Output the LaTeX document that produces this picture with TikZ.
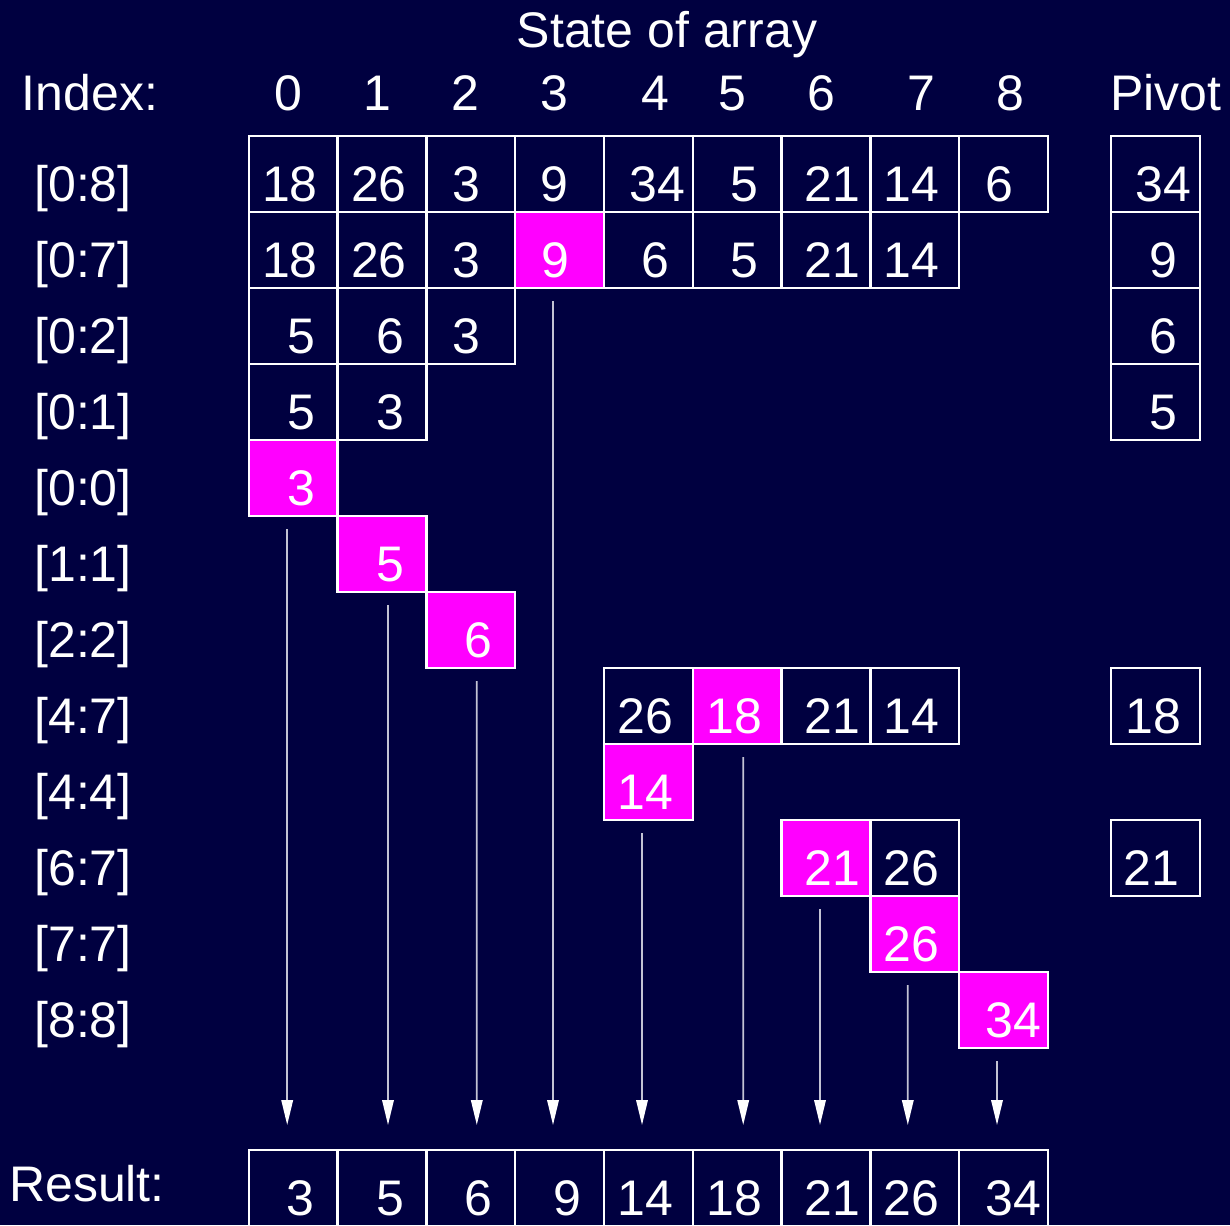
\documentclass[tikz,border=0pt]{standalone}
\usepackage{fontspec}
\setmainfont{Liberation Sans}
\usetikzlibrary{arrows.meta}
\definecolor{bgnavy}{RGB}{0,0,64}
\definecolor{pinkfill}{RGB}{255,0,255}
\definecolor{arrowgray}{RGB}{195,195,212}
\begin{document}
\begin{tikzpicture}[x=1pt,y=-1pt,
  cellbox/.style={draw=white,line width=2.5pt,minimum width=88.8pt,minimum height=76pt,inner sep=0pt,outer sep=0pt,anchor=north west},
  pinkbox/.style={cellbox,fill=pinkfill},
  resbox/.style={cellbox,minimum height=95pt},
  txt/.style={text=white,font=\fontsize{50}{60}\selectfont,inner sep=0pt,outer sep=0pt,anchor=base},
  arr/.style={draw=arrowgray,line width=1.8pt,-{Triangle[width=11.5pt,length=25pt,color=white]}}
]
\fill[bgnavy] (0,0) rectangle (1230,1225);
\useasboundingbox (0,0) rectangle (1230,1225);

% headers
\node[txt] (title) at (667,48) {State of array};
\node[txt] (index) at (90,111) {Index:};
\node[txt] (pivot) at (1166,111) {Pivot};
\node[txt] (h0) at (288,111) {0};
\node[txt] (h1) at (377,111) {1};
\node[txt] (h2) at (465,111) {2};
\node[txt] (h3) at (554,111) {3};
\node[txt] (h4) at (655,111) {4};
\node[txt] (h5) at (732,111) {5};
\node[txt] (h6) at (821,111) {6};
\node[txt] (h7) at (921,111) {7};
\node[txt] (h8) at (1010,111) {8};

% row labels
\node[txt] (l0) at (83,201) {[0:8]};
\node[txt] (l1) at (83,277) {[0:7]};
\node[txt] (l2) at (83,353) {[0:2]};
\node[txt] (l3) at (83,429) {[0:1]};
\node[txt] (l4) at (83,505) {[0:0]};
\node[txt] (l5) at (83,581) {[1:1]};
\node[txt] (l6) at (83,657) {[2:2]};
\node[txt] (l7) at (83,733) {[4:7]};
\node[txt] (l8) at (83,809) {[4:4]};
\node[txt] (l9) at (83,885) {[6:7]};
\node[txt] (l10) at (83,961) {[7:7]};
\node[txt] (l11) at (83,1037) {[8:8]};
\node[txt] (lres) at (87,1201) {Result:};

% row 0 cells
\foreach \c in {0,...,8} \node[cellbox] (r0c\c) at ({248.8+88.8*\c},136) {};
% row 1 cells
\foreach \c in {0,1,2,4,5,6,7} \node[cellbox] (r1c\c) at ({248.8+88.8*\c},212) {};
\node[pinkbox] (p3) at (515.2,212) {};
% row 2
\foreach \c in {0,1,2} \node[cellbox] (r2c\c) at ({248.8+88.8*\c},288) {};
% row 3
\foreach \c in {0,1} \node[cellbox] (r3c\c) at ({248.8+88.8*\c},364) {};
% single pinks
\node[pinkbox] (p0) at (248.8,440) {};
\node[pinkbox] (p1) at (337.6,516) {};
\node[pinkbox] (p2) at (426.4,592) {};
% row 7
\node[cellbox] (r7c4) at (604,668) {};
\node[cellbox] (r7c6) at (781.6,668) {};
\node[cellbox] (r7c7) at (870.4,668) {};
\node[pinkbox] (p5) at (692.8,668) {};
% row 8
\node[pinkbox] (p4) at (604,744) {};
% row 9
\node[cellbox] (r9c7) at (870.4,820) {};
\node[pinkbox] (p6) at (781.6,820) {};
% row 10, 11
\node[pinkbox] (p7) at (870.4,896) {};
\node[pinkbox] (p8) at (959.2,972) {};
% pivot column
\node[cellbox] (pv0) at (1111,136) {};
\node[cellbox] (pv1) at (1111,212) {};
\node[cellbox] (pv2) at (1111,288) {};
\node[cellbox] (pv3) at (1111,364) {};
\node[cellbox] (pv7) at (1111,668) {};
\node[cellbox] (pv9) at (1111,820) {};
% result row
\foreach \c in {0,...,8} \node[resbox] (res\c) at ({248.8+88.8*\c},1150) {};

% texts row 0
\node[txt] (t0a) at (290,201) {18};
\node[txt] (t0b) at (379,201) {26};
\node[txt] (t0c) at (466,201) {3};
\node[txt] (t0d) at (554,201) {9};
\node[txt] (t0e) at (657,201) {34};
\node[txt] (t0f) at (744,201) {5};
\node[txt] (t0g) at (832,201) {21};
\node[txt] (t0h) at (911,201) {14};
\node[txt] (t0i) at (999,201) {6};
\node[txt] (t0p) at (1163,201) {34};
% row 1
\node[txt] (t1a) at (290,277) {18};
\node[txt] (t1b) at (379,277) {26};
\node[txt] (t1c) at (466,277) {3};
\node[txt] (t1d) at (555,277) {9};
\node[txt] (t1e) at (655,277) {6};
\node[txt] (t1f) at (744,277) {5};
\node[txt] (t1g) at (832,277) {21};
\node[txt] (t1h) at (911,277) {14};
\node[txt] (t1p) at (1163,277) {9};
% row 2
\node[txt] (t2a) at (301,353) {5};
\node[txt] (t2b) at (390,353) {6};
\node[txt] (t2c) at (466,353) {3};
\node[txt] (t2p) at (1163,353) {6};
% row 3
\node[txt] (t3a) at (301,429) {5};
\node[txt] (t3b) at (390,429) {3};
\node[txt] (t3p) at (1163,429) {5};
% rows 4-6
\node[txt] (t4a) at (301,505) {3};
\node[txt] (t5b) at (390,581) {5};
\node[txt] (t6c) at (478,657) {6};
% row 7
\node[txt] (t7e) at (645,733) {26};
\node[txt] (t7f) at (734,733) {18};
\node[txt] (t7g) at (832,733) {21};
\node[txt] (t7h) at (911,733) {14};
\node[txt] (t7p) at (1153,733) {18};
% row 8
\node[txt] (t8e) at (645,809) {14};
% row 9
\node[txt] (t9g) at (832,885) {21};
\node[txt] (t9h) at (911,885) {26};
\node[txt] (t9p) at (1151,885) {21};
% rows 10-11
\node[txt] (t10h) at (911,961) {26};
\node[txt] (t11i) at (1013,1037) {34};
% result
\node[txt] (ra) at (300,1215) {3};
\node[txt] (rb) at (390,1215) {5};
\node[txt] (rc) at (478,1215) {6};
\node[txt] (rd) at (567,1215) {9};
\node[txt] (re) at (645,1215) {14};
\node[txt] (rf) at (734,1215) {18};
\node[txt] (rg) at (832,1215) {21};
\node[txt] (rh) at (911,1215) {26};
\node[txt] (ri) at (1013,1215) {34};

% arrows
\draw[arr] ([xshift=-6pt,yshift=-13pt]p0.south) -- ([xshift=-6pt,yshift=25pt]res0.north);
\draw[arr] ([xshift=6pt,yshift=-13pt]p1.south) -- ([xshift=6pt,yshift=25pt]res1.north);
\draw[arr] ([xshift=6pt,yshift=-13pt]p2.south) -- ([xshift=6pt,yshift=25pt]res2.north);
\draw[arr] ([xshift=-6.6pt,yshift=-13pt]p3.south) -- ([xshift=-6.6pt,yshift=25pt]res3.north);
\draw[arr] ([xshift=-6.4pt,yshift=-13pt]p4.south) -- ([xshift=-6.4pt,yshift=25pt]res4.north);
\draw[arr] ([xshift=6pt,yshift=-13pt]p5.south) -- ([xshift=6pt,yshift=25pt]res5.north);
\draw[arr] ([xshift=-6pt,yshift=-13pt]p6.south) -- ([xshift=-6pt,yshift=25pt]res6.north);
\draw[arr] ([xshift=-7pt,yshift=-13pt]p7.south) -- ([xshift=-7pt,yshift=25pt]res7.north);
\draw[arr] ([xshift=-6.6pt,yshift=-13pt]p8.south) -- ([xshift=-6.6pt,yshift=25pt]res8.north);
\end{tikzpicture}
\end{document}
